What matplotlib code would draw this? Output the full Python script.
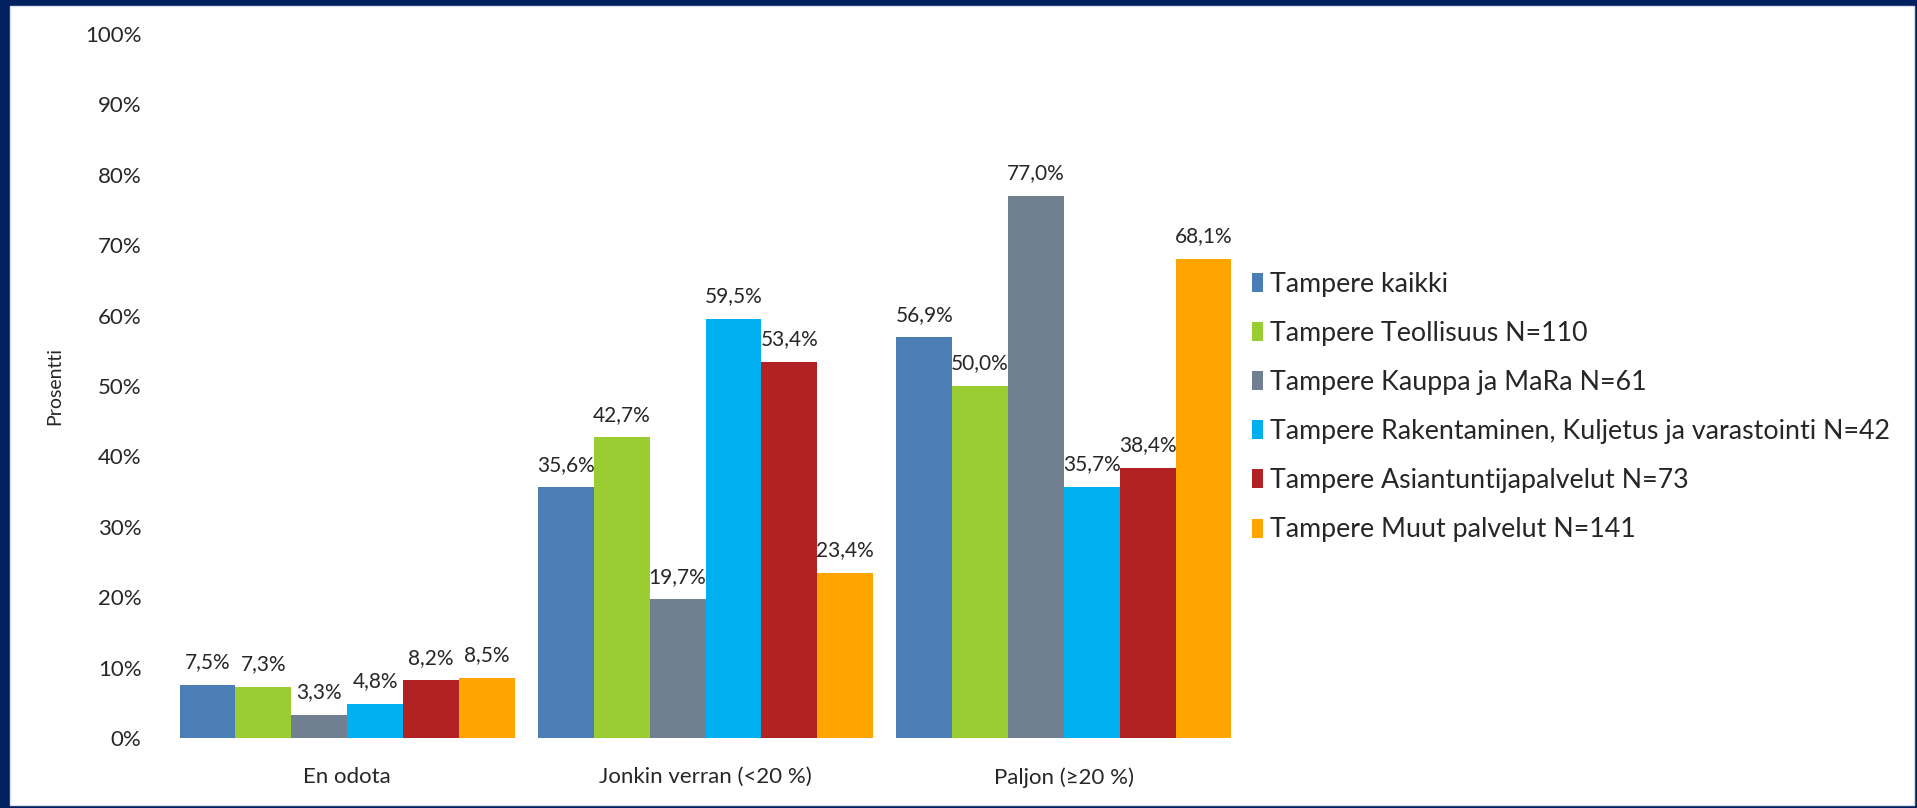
import numpy as np
import matplotlib.pyplot as plt
from matplotlib.patches import Rectangle

# Data (percent)
categories = ['En odota', 'Jonkin verran (<20 %)', 'Paljon (≥20 %)']
series_names = [
    'Tampere kaikki',
    'Tampere Teollisuus N=110',
    'Tampere Kauppa ja MaRa N=61',
    'Tampere Rakentaminen, Kuljetus ja varastointi N=42',
    'Tampere Asiantuntijapalvelut N=73',
    'Tampere Muut palvelut N=141',
]
kaikki = [7.5, 35.6, 56.9]
teollisuus = [7.3, 42.7, 50.0]
kauppa = [3.3, 19.7, 77.0]
rakentaminen = [4.8, 59.5, 35.7]
asiantuntija = [8.2, 53.4, 38.4]
muut = [8.5, 23.4, 68.1]
series_values = [kaikki, teollisuus, kauppa, rakentaminen, asiantuntija, muut]
colors = ['#4A7EB4', '#9ACD32', '#708090', '#00B0F0', '#B22222', '#FFA500']

plt.rcParams['font.family'] = ['Lato', 'DejaVu Sans']

fig = plt.figure(figsize=(19.17, 8.08), dpi=100)
fig.patch.set_facecolor('#002060')
# white panel inside the navy frame
fig.patches.append(Rectangle((10 / 1917, 3 / 808), 1 - 13 / 1917, 1 - 9 / 808,
                             transform=fig.transFigure, facecolor='white',
                             edgecolor='#DDE3EE', linewidth=1, zorder=-10))

ax = fig.add_axes([168 / 1917, 70 / 808, 1075 / 1917, 704 / 808])
ax.set_facecolor('none')

x = np.arange(len(categories))
n = len(series_values)
bar_w = 0.935 / n
for i, (name, vals, c) in enumerate(zip(series_names, series_values, colors)):
    pos = x - 0.935 / 2 + bar_w * (i + 0.5)
    ax.bar(pos, vals, width=bar_w, color=c, label=name, zorder=2)
    for p, v in zip(pos, vals):
        ax.text(p, v + 1.8, f'{v:.1f}%'.replace('.', ','), ha='center', va='bottom',
                fontsize=15, color='#262626')

ax.set_xlim(-0.5, 2.5)
ax.set_ylim(0, 100)
ax.set_yticks(np.arange(0, 101, 10))
ax.set_yticklabels([f'{t}%' for t in range(0, 101, 10)])
ax.set_xticks(x)
ax.set_xticklabels(categories)
ax.tick_params(axis='y', length=0, pad=19, labelsize=16, labelcolor='#262626')
ax.tick_params(axis='x', length=0, pad=21, labelsize=16, labelcolor='#262626')
for s in ax.spines.values():
    s.set_visible(False)

ax.set_ylabel('Prosentti', fontsize=14, color='#262626')
ax.yaxis.set_label_coords(-0.097, 0.5)

ax.legend(loc='center left', bbox_to_anchor=(1.008, 0.47), frameon=False,
          fontsize=19.3, handlelength=0.42, handleheight=0.72, handletextpad=0.25,
          labelspacing=0.9, borderpad=0, borderaxespad=0, labelcolor='#262626')

fig.savefig('out.png', dpi=100, facecolor=fig.get_facecolor())
